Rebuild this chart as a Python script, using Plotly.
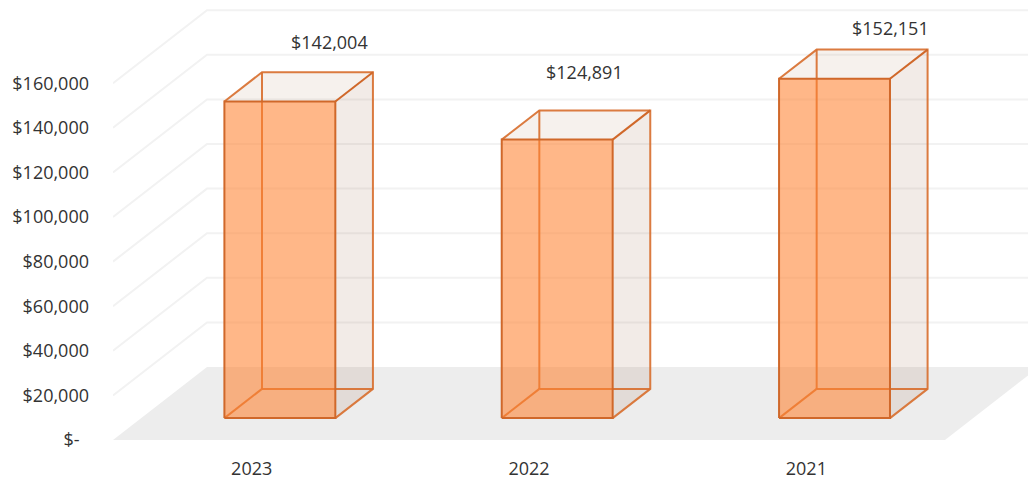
import plotly.graph_objects as go

categories = ["2023", "2022", "2021"]
values = [142004, 124891, 152151]
value_labels = ["$142,004", "$124,891", "$152,151"]
grid_values = [20000, 40000, 60000, 80000, 100000, 120000, 140000, 160000]
tick_values = [0] + grid_values
tick_labels = ["$-\u00a0\u00a0", "$20,000", "$40,000", "$60,000", "$80,000",
               "$100,000", "$120,000", "$140,000", "$160,000"]

# oblique projection of the depth axis, in axis units
DX = 94 / 277.33
DY = 73 / 44.6 * 20000
BAR_W = 0.40
D0, D1 = 0.3, 0.7
XMIN, XMAX = -0.5, -0.5 + 915 / 277.33
YMAX = 440 / 44.6 * 20000
label_xshift = [12, -10, 18]
label_yshift = [16, 24, 8]

TEXT = "#333333"
FONT = "Open Sans"
EDGE = "#D0682A"
EDGE_BACK = "rgba(216,112,48,0.92)"


def pt(x, v, d):
    return x + DX * d, v + DY * d


def poly(points, fill):
    xs = [p[0] for p in points] + [points[0][0]]
    ys = [p[1] for p in points] + [points[0][1]]
    return go.Scatter(x=xs, y=ys, mode="lines", fill="toself", fillcolor=fill,
                      line=dict(width=0), hoverinfo="skip")


def seg(points, color, width):
    return go.Scatter(x=[p[0] for p in points], y=[p[1] for p in points], mode="lines",
                      line=dict(color=color, width=width), hoverinfo="skip")


fig = go.Figure()

# floor
fig.add_trace(poly([pt(XMIN, 0, 0), pt(XMIN + 3, 0, 0), pt(XMIN + 3, 0, 1), pt(XMIN, 0, 1)], "#EDEDED"))

# grid lines on the left and back walls
for g in grid_values:
    a, b = pt(XMIN, g, 0), pt(XMIN, g, 1)
    c = pt(XMIN + 3, g, 1)
    fig.add_trace(seg([a, b, c], "#F2F2F2", 2))

# bars
for i, v in enumerate(values):
    l, r = i - BAR_W / 2, i + BAR_W / 2
    fb = lambda x, h: pt(x, h, D0)
    bk = lambda x, h: pt(x, h, D1)
    fig.add_trace(poly([fb(r, 0), bk(r, 0), bk(r, v), fb(r, v)], "rgba(155,102,68,0.13)"))
    fig.add_trace(poly([fb(l, v), fb(r, v), bk(r, v), bk(l, v)], "rgba(165,115,75,0.10)"))
    fig.add_trace(seg([bk(l, 0), bk(l, v)], EDGE_BACK, 2))
    fig.add_trace(seg([bk(l, 0), bk(r, 0)], EDGE_BACK, 2))
    fig.add_trace(seg([fb(l, 0), bk(l, 0)], EDGE_BACK, 2))
    fig.add_trace(poly([fb(l, 0), fb(r, 0), fb(r, v), fb(l, v)], "rgba(255,131,50,0.58)"))
    fig.add_trace(seg([fb(r, 0), bk(r, 0), bk(r, v), bk(l, v), fb(l, v)], EDGE_BACK, 2))
    fig.add_trace(seg([fb(r, v), bk(r, v)], EDGE, 2))
    fig.add_trace(seg([fb(l, 0), fb(r, 0), fb(r, v), fb(l, v), fb(l, 0)], EDGE, 2))
    bx, by = bk(i, v)
    fig.add_annotation(x=bx, y=by, text=value_labels[i], showarrow=False, xref="x", yref="y",
                       xshift=label_xshift[i], yshift=label_yshift[i], yanchor="bottom",
                       font=dict(family=FONT, size=18, color=TEXT))

fig.update_layout(
    width=1028, height=478, showlegend=False, hovermode=False,
    margin=dict(l=113, r=0, t=0, b=38),
    paper_bgcolor="white", plot_bgcolor="white",
    font=dict(family=FONT, size=18, color=TEXT),
    xaxis=dict(range=[XMIN, XMAX], tickmode="array", tickvals=list(range(3)), ticktext=categories,
               showgrid=False, zeroline=False, showline=False, ticks="", ticklabelstandoff=16,
               automargin=False),
    yaxis=dict(range=[0, YMAX], tickmode="array", tickvals=tick_values, ticktext=tick_labels,
               showgrid=False, zeroline=False, showline=False, ticks="", ticklabelstandoff=23,
               automargin=False),
)

fig.write_html("out.html", config={"displayModeBar": False},
               post_script="document.body.style.margin='0';")
